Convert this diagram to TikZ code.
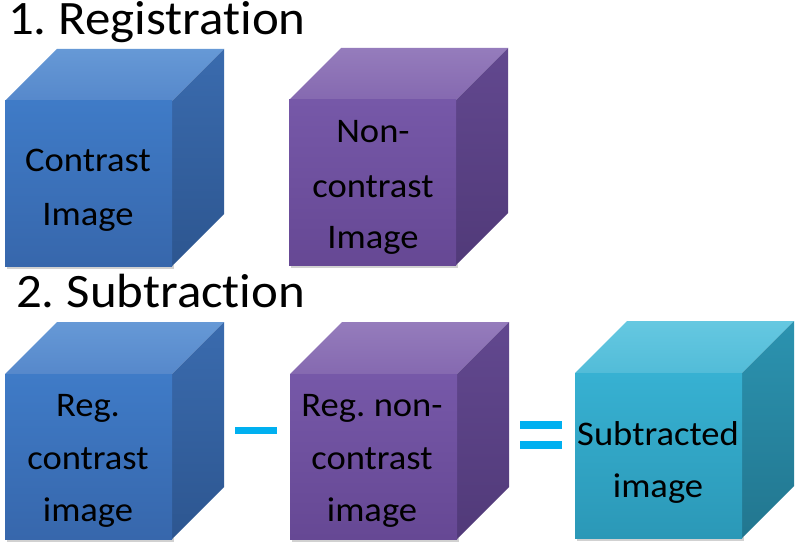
\documentclass[tikz,border=0pt]{standalone}
\usepackage{fontspec}
\setmainfont{Carlito}[FakeStretch=1.06, Ligatures=NoCommon, WordSpace=0.7]
% blue
\definecolor{blueFT}{HTML}{3F7BC7}
\definecolor{blueFB}{HTML}{3767AC}
\definecolor{blueTT}{HTML}{6699D6}
\definecolor{blueTB}{HTML}{5688CB}
\definecolor{blueST}{HTML}{3A6BAE}
\definecolor{blueSB}{HTML}{2D5690}
% purple
\definecolor{purpFT}{HTML}{7658A8}
\definecolor{purpFB}{HTML}{664894}
\definecolor{purpTT}{HTML}{957CBC}
\definecolor{purpTB}{HTML}{8569B0}
\definecolor{purpST}{HTML}{62488F}
\definecolor{purpSB}{HTML}{513A79}
% cyan
\definecolor{cyanFT}{HTML}{37B1D2}
\definecolor{cyanFB}{HTML}{2B98B7}
\definecolor{cyanTT}{HTML}{65C8E1}
\definecolor{cyanTB}{HTML}{52BCD8}
\definecolor{cyanST}{HTML}{2B93B0}
\definecolor{cyanSB}{HTML}{22768F}
\definecolor{signcol}{HTML}{00B0F0}
\def\cw{167}
\def\ch{165}
\def\cd{52}
% #1 name, #2 x, #3 y (front lower-left), #4 colour prefix
\newcommand{\drawcube}[4]{%
  \coordinate (#1-sw) at (#2,#3);
  \fill[black!18] (#2+2,#3-3) rectangle ++(\cw,4);
  \shade[top color=#4TT, bottom color=#4TB]
    (#2,#3+\ch) -- ++(\cd,\cd) -- ++(\cw,0) -- ++(-\cd,-\cd) -- cycle;
  \shade[top color=#4ST, bottom color=#4SB]
    (#2+\cw,#3) -- ++(\cd,\cd) -- ++(0,\ch) -- ++(-\cd,-\cd) -- cycle;
  \shade[top color=#4FT, bottom color=#4FB]
    (#2,#3) rectangle ++(\cw,\ch);
}
\tikzset{
  cubetext/.style={font=\fontsize{34.5}{52}\selectfont, anchor=base, inner sep=0pt, text=black},
  titletext/.style={font=\fontsize{48}{56}\selectfont, anchor=base west, inner sep=0pt, text=black, text height=31pt, text depth=10pt},
  signbar/.style={fill=signcol}
}
\begin{document}
\begin{tikzpicture}[x=1pt,y=1pt]
\useasboundingbox (0,0) rectangle (800,550);
\fill[white] (0,0) rectangle (800,550);

\node[titletext] (t1) at (8,515) {1. Registration};
\node[titletext] (t2) at (16,243) {2. Subtraction};

\drawcube{c1}{5}{284}{blue}
\drawcube{c2}{289}{285}{purp}
\drawcube{c3}{5}{11}{blue}
\drawcube{c4}{290}{11}{purp}
\drawcube{c5}{575}{12}{cyan}

\node[cubetext] (c1a) at (88,378) {Contrast};
\node[cubetext] (c1b) at (88,325) {Image};

\node[cubetext] (c2a) at (373,407) {Non-};
\node[cubetext] (c2b) at (373,353) {contrast};
\node[cubetext] (c2c) at (373,302) {Image};

\node[cubetext] (c3a) at (88,134) {Reg.};
\node[cubetext] (c3b) at (88,81) {contrast};
\node[cubetext] (c3c) at (88,29) {image};

\node[cubetext] (c4a) at (372,134) {Reg. non-};
\node[cubetext] (c4b) at (372,81) {contrast};
\node[cubetext] (c4c) at (372,29) {image};

\node[cubetext] (c5a) at (658,105) {Subtracted};
\node[cubetext] (c5b) at (658,53) {image};

\fill[signbar] (235,116) rectangle (277,123);
\fill[signbar] (520,121) rectangle (562,129);
\fill[signbar] (520,101) rectangle (562,109);
\end{tikzpicture}
\end{document}
